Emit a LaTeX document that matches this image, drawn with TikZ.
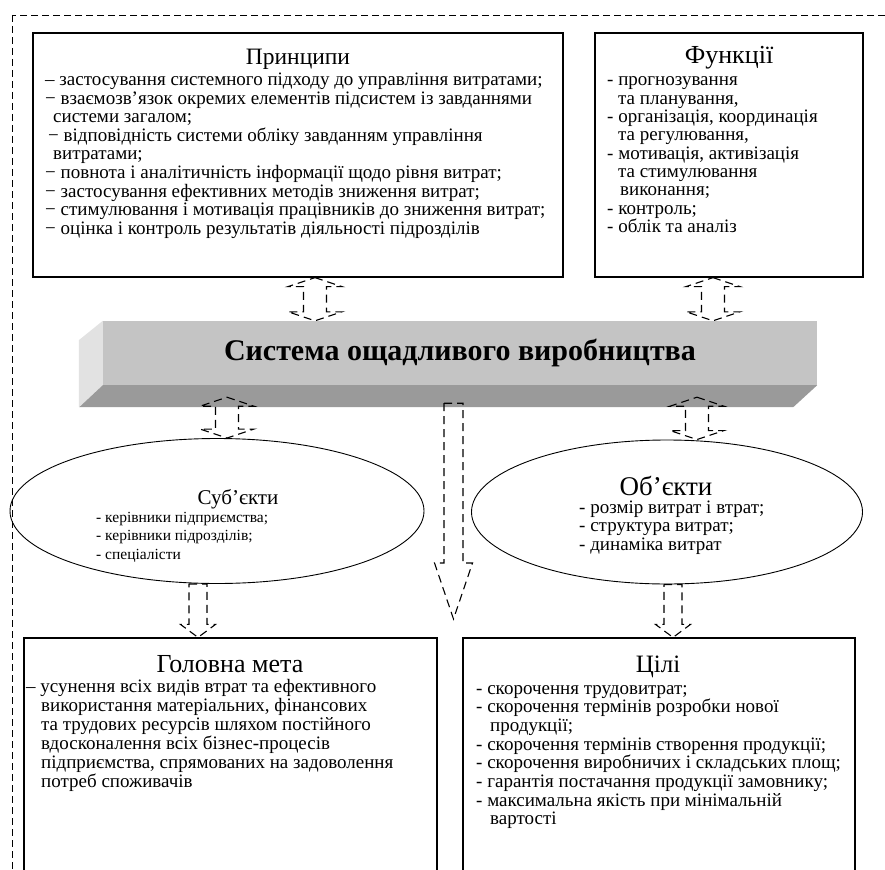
\documentclass[tikz,border=0pt]{standalone}
\usepackage{fontspec}
\setmainfont{Liberation Serif}
\usetikzlibrary{shapes.geometric, calc, positioning}
\tikzset{>=stealth}

\definecolor{barfront}{HTML}{C4C4C4}
\definecolor{barside}{HTML}{E2E2E2}
\definecolor{barbottom}{HTML}{9A9A9A}

\tikzset{
  box/.style={draw, line width=1.2pt, rectangle, inner sep=0pt},
  oval/.style={draw, ellipse, line width=0.9pt, inner sep=0pt},
  heading/.style={font=\fontsize{#1}{#1}\selectfont, anchor=base, inner sep=0pt},
  entry/.style={font=\fontsize{#1}{#1}\selectfont, anchor=base west, inner sep=0pt},
  blockarrow/.style={line width=1.1pt, dash pattern=on 8pt off 5pt},
  frame/.style={line width=0.9pt, dash pattern=on 7pt off 4pt}
}

% dashed up-down block arrow: x and top tip from #1, bottom tip height from #2
\newcommand{\twoway}[2]{%
  \draw[blockarrow] let \p1=(#1), \p2=(#2) in
    (\x1,\y1) -- (\x1+27pt,\y1-9pt) -- (\x1+11.5pt,\y1-9pt) -- (\x1+11.5pt,\y2+9pt)
    -- (\x1+27pt,\y2+9pt) -- (\x1,\y2) -- (\x1-27pt,\y2+9pt) -- (\x1-11.5pt,\y2+9pt)
    -- (\x1-11.5pt,\y1-9pt) -- (\x1-27pt,\y1-9pt) -- cycle;}

% dashed down block arrow: #3 half shaft, #4 half head, #5 head length
\newcommand{\oneway}[5]{%
  \draw[blockarrow] let \p1=(#1), \p2=(#2) in
    (\x1-#3,\y1) -- (\x1+#3,\y1) -- (\x1+#3,\y2+#5) -- (\x1+#4,\y2+#5) -- (\x1,\y2)
    -- (\x1-#4,\y2+#5) -- (\x1-#3,\y2+#5) -- cycle;}

\begin{document}
\begin{tikzpicture}[x=1pt, y=-1pt]
    \useasboundingbox (0,0) rectangle (885,869);
    \clip (0,0) rectangle (885,869);
    \draw[frame] (12,15) rectangle (900,900);

    % top row
    \node[box, minimum width=530pt, minimum height=244pt] (prin) at (298,155) {};
    \node[box, minimum width=268pt, minimum height=244pt] (func) at (729,155) {};
    \node[heading=23.5] (prinhead) at (298,65) {Принципи};
    \node[heading=26] (funchead) at (729,64) {Функції};
    \foreach \dx/\txt [count=\i from 0] in {
        0/{– застосування системного підходу до управління витратами;},
        0/{− взаємозв’язок окремих елементів підсистем із завданнями},
        8/{системи загалом;},
        3/{− відповідність системи обліку завданням управління},
        8/{витратами;},
        0/{− повнота і аналітичність інформації щодо рівня витрат;},
        0/{− застосування ефективних методів зниження витрат;},
        0/{− стимулювання і мотивація працівників до зниження витрат;},
        0/{− оцінка і контроль результатів діяльності підрозділів}}
    {
        \node[entry=19] (prinline\i) at (45+\dx, 86+18.5*\i) {\txt};
    }
    \foreach \dx/\txt [count=\i from 0] in {
        0/{- прогнозування}, 11/{та планування,},
        0/{- організація, координація}, 11/{та регулювання,},
        0/{- мотивація, активізація}, 11/{та стимулювання}, 13/{виконання;},
        0/{- контроль;}, 0/{- облік та аналіз}}
    {
        \node[entry=19] (funcline\i) at (607+\dx, 86+18.3*\i) {\txt};
    }

    % the bar
    \node[fill=barfront, minimum width=714pt, minimum height=64pt, inner sep=0pt,
          font=\bfseries\fontsize{30}{32}\selectfont] (sys) at (460,353) {Система ощадливого виробництва};
    \fill[barside] (sys.north west) -- (sys.south west) -- ++(-24,22) -- ++(0,-67) -- cycle;
    \fill[barbottom] (sys.south west) -- (sys.south east) -- ++(-24,22) -- ++(-714,0) -- cycle;

    % middle row
    \node[oval, minimum width=414pt, minimum height=145pt] (subj) at (217,511) {};
    \node[oval, minimum width=391pt, minimum height=144pt] (obj) at (667,512) {};
    \node[heading=21] (subjhead) at (238,504) {Суб’єкти};
    \node[heading=27] (objhead) at (666,495) {Об’єкти};
    \foreach \txt [count=\i from 0] in {- керівники підприємства;, - керівники підрозділів;, - спеціалісти}
    {
        \node[entry=15.5] (subjline\i) at (96, 522+18.5*\i) {\txt};
    }
    \foreach \txt [count=\i from 0] in {- розмір витрат і втрат;, - структура витрат;, - динаміка витрат}
    {
        \node[entry=19] (objline\i) at (579, 513+18.5*\i) {\txt};
    }

    % bottom row
    \node[box, minimum width=413pt, minimum height=252pt] (goal) at (230.5,764) {};
    \node[box, minimum width=392pt, minimum height=252pt] (aims) at (659,764) {};
    \node[heading=26] (goalhead) at (230,672) {Головна мета};
    \node[heading=25] (aimshead) at (658,672) {Цілі};
    \foreach \dx/\txt [count=\i from 0] in {
        0/{– усунення всіх видів втрат та ефективного},
        15/{використання матеріальних, фінансових},
        15/{та трудових ресурсів шляхом постійного},
        15/{вдосконалення всіх бізнес-процесів},
        15/{підприємства, спрямованих на задоволення},
        15/{потреб споживачів}}
    {
        \node[entry=19] (goalline\i) at (26+\dx, 692+19*\i) {\txt};
    }
    \foreach \dx/\txt [count=\i from 0] in {
        0/{- скорочення трудовитрат;},
        0/{- скорочення термінів розробки нової}, 14/{продукції;},
        0/{- скорочення термінів створення продукції;},
        0/{- скорочення виробничих і складських площ;},
        0/{- гарантія постачання продукції замовнику;},
        0/{- максимальна якість при мінімальній}, 14/{вартості}}
    {
        \node[entry=19] (aimsline\i) at (476+\dx, 694+18.7*\i) {\txt};
    }

    % arrows
    \coordinate (down) at (453.5,619);
    \twoway{[xshift=17pt]prin.south}{sys.north}
    \twoway{[xshift=-16pt]func.south}{sys.north}
    \twoway{[xshift=-233pt, yshift=-12pt]sys.south}{subj.north}
    \twoway{[xshift=237pt, yshift=-12pt]sys.south}{obj.north}
    \oneway{[xshift=-6.5pt, yshift=-18pt]sys.south}{down}{9.5pt}{19pt}{56pt}
    \oneway{[xshift=-19pt]subj.south}{goal.north}{9pt}{17.5pt}{13pt}
    \oneway{[xshift=6pt]obj.south}{aims.north}{9pt}{17.5pt}{13pt}
\end{tikzpicture}
\end{document}
